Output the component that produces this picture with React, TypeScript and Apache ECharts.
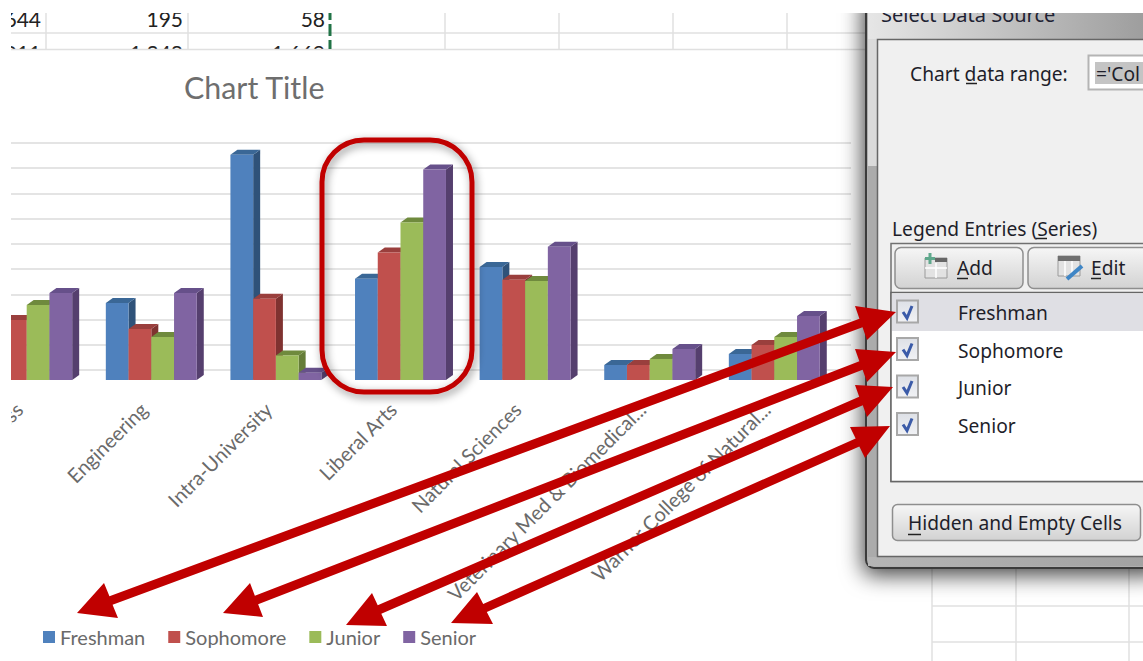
import React, { useEffect, useRef } from "react";
import * as echarts from "echarts";

const categories = [
  "Business",
  "Engineering",
  "Intra-University",
  "Liberal Arts",
  "Natural Sciences",
  "Veterinary Med & Biomedical...",
  "Warner College of Natural...",
];
const seriesNames = ["Freshman", "Sophomore", "Junior", "Senior"];
const freshman = [560, 611, 1786, 802, 897, 119, 206];
const sophomore = [476, 405, 644, 1011, 794, 119, 278];
const junior = [595, 341, 195, 1248, 786, 167, 341];
const senior = [690, 690, 58, 1669, 1056, 246, 508];
const seriesValues = [freshman, sophomore, junior, senior];
const frontColors = ["#4F81BD", "#C0504D", "#9BBB59", "#8064A2"];
const topColors = ["#3A6796", "#9A3F3D", "#6F8A3D", "#66508A"];
const sideColors = ["#2F5279", "#7F3230", "#657D38", "#553F6E"];

const sheetRow1 = ["644", "195", "58"];
const sheetRow2 = ["011", "1,248", "1,669"];
const sheetRight = [41, 183, 325];
const dialogEntries = seriesNames;

const SHEET = '"Lato"';
const UI = '"Noto Sans"';
const UI_FONT = `19.2px ${UI}`;
const RED = "#C00000";
const GRID = "#E0E0E0";

const line = (x1: number, y1: number, x2: number, y2: number, stroke: string, lineWidth: number, z: number, extra: any = {}) => ({
  type: "line",
  z,
  shape: { x1, y1, x2, y2 },
  style: { stroke, lineWidth, ...extra },
});
const rect = (x: number, y: number, width: number, height: number, style: any, z: number, r = 0) => ({
  type: "rect",
  z,
  shape: { x, y, width, height, r },
  style,
});
const text = (t: string, x: number, y: number, font: string, fill: string, z: number, textAlign = "left") => ({
  type: "text",
  z,
  style: { text: t, x, y, font, fill, textAlign, textVerticalAlign: "middle" },
});
const vGrad = (a: string, b: string) => ({
  type: "linear", x: 0, y: 0, x2: 0, y2: 1,
  colorStops: [{ offset: 0, color: a }, { offset: 1, color: b }],
});
const hGrad = (a: string, b: string) => ({
  type: "linear", x: 0, y: 0, x2: 1, y2: 0,
  colorStops: [{ offset: 0, color: a }, { offset: 1, color: b }],
});

type P = [number, number];
const arrow = (tipA: P, a1: P, a2: P, tipB: P, b1: P, b2: P, w: number, z: number) => {
  const ca: P = [(a1[0] + a2[0]) / 2, (a1[1] + a2[1]) / 2];
  const cb: P = [(b1[0] + b2[0]) / 2, (b1[1] + b2[1]) / 2];
  const dx = cb[0] - ca[0];
  const dy = cb[1] - ca[1];
  const len = Math.hypot(dx, dy);
  const nx = (-dy / len) * (w / 2);
  const ny = (dx / len) * (w / 2);
  const points = [
    tipA, a1,
    [ca[0] - nx, ca[1] - ny], [cb[0] - nx, cb[1] - ny],
    b1, tipB, b2,
    [cb[0] + nx, cb[1] + ny], [ca[0] + nx, ca[1] + ny],
    a2,
  ];
  return { type: "polygon", z, shape: { points }, style: { fill: RED } };
};

function sheetElements() {
  const els: any[] = [];
  sheetRow1.forEach((t, i) => els.push(text(t, sheetRight[i], 18, `21px ${SHEET}`, "#222222", 1, "right")));
  sheetRow2.forEach((t, i) => els.push(text(t, sheetRight[i], 52, `21px ${SHEET}`, "#222222", 1, "right")));
  els.push(rect(0, 49, 860, 18, { fill: "#FFFFFF" }, 2));
  [46, 188, 445, 559, 673, 787].forEach((x) => els.push(line(x, 0, x, 49, GRID, 1.5, 3)));
  els.push(line(0, 33, 870, 33, GRID, 1.5, 3));
  els.push(line(0, 49.5, 870, 49.5, GRID, 1.5, 3));
  els.push(line(330, 8, 330, 49, "#217346", 3, 3, { lineDash: [12, 4] }));
  // cells under the dialog
  [932, 1016, 1129].forEach((x) => els.push(line(x, 560, x, 661, GRID, 1.5, 1)));
  [606, 642].forEach((y) => els.push(line(932, y, 1143, y, GRID, 1.5, 1)));
  return els;
}

function dialogElements() {
  const z = 10;
  const els: any[] = [];
  // frame
  els.push(rect(866, -10, 300, 578, {
    fill: "#AFAFAF", stroke: "#3A3A3A", lineWidth: 2,
    shadowBlur: 22, shadowColor: "rgba(0,0,0,0.75)", shadowOffsetX: -2, shadowOffsetY: 6,
  }, z, 8));
  els.push(rect(868, 0, 275, 39, { fill: hGrad("#E6E6E6", "#9E9E9E") }, z));
  els.push(rect(868, 39, 9, 127, { fill: "#DADADA" }, z));
  els.push(rect(868, 166, 9, 398, { fill: "#ABABAB" }, z));
  els.push(rect(868, 557, 275, 9, { fill: hGrad("#B5B5B5", "#A2A2A2") }, z));
  els.push(text("Select Data Source", 881, 14, `20px ${UI}`, "#1E2233", z));
  els.push(rect(877.5, 39.5, 300, 517, { fill: "#F0F0F0", stroke: "#666666", lineWidth: 1.5 }, z));

  // data range
  els.push(text("Chart data range:", 910, 73, UI_FONT, "#1E1E2A", z));
  els.push(line(966, 83.5, 977, 83.5, "#222222", 1.5, z));
  els.push(rect(1088.5, 55.5, 80, 34, { fill: "#FFFFFF", stroke: "#B4B4B4", lineWidth: 2 }, z));
  els.push(rect(1095, 62, 60, 22, { fill: "#C4C4C4" }, z));
  els.push(text("='Col", 1096, 73, UI_FONT, "#1E1E2A", z));

  // legend entries
  els.push(text("Legend Entries (Series)", 892, 228.5, UI_FONT, "#1E1E2A", z));
  els.push(line(1036, 238.5, 1047, 238.5, "#222222", 1.5, z));
  els.push(rect(891, 243.5, 270, 238, { fill: "#F0F0F0", stroke: "#707070", lineWidth: 1.5 }, z));
  const btn = { fill: vGrad("#F6F6F6", "#D2D2D2"), stroke: "#8E8E8E", lineWidth: 1.5 };
  els.push(rect(895, 247.5, 128, 41, btn, z, 6));
  els.push(rect(1028, 247.5, 140, 41, btn, z, 6));
  els.push(text("Add", 957, 267.5, UI_FONT, "#1E1E2A", z));
  els.push(line(957, 278.5, 968, 278.5, "#222222", 1.5, z));
  els.push(text("Edit", 1091, 267.5, UI_FONT, "#1E1E2A", z));
  els.push(line(1091, 278.5, 1101, 278.5, "#222222", 1.5, z));
  // add icon
  els.push(rect(925, 258, 22, 20, { fill: "#E2E2E2", stroke: "#9A9A9A", lineWidth: 1 }, z));
  els.push(rect(935, 258, 12, 4, { fill: "#666666" }, z));
  els.push(line(925, 268, 947, 268, "#FFFFFF", 1.5, z));
  els.push(line(936, 263, 936, 278, "#FFFFFF", 1.5, z));
  els.push(line(925, 258.5, 935, 258.5, "#5FA88C", 3, z));
  els.push(line(930, 253, 930, 264, "#5FA88C", 3, z));
  // edit icon
  els.push(rect(1058, 256, 22, 20, { fill: "#E2E2E2", stroke: "#9A9A9A", lineWidth: 1 }, z));
  els.push(rect(1058, 256, 22, 5, { fill: "#6E6E6E" }, z));
  els.push(line(1065, 261, 1065, 276, "#FFFFFF", 1.5, z));
  els.push(line(1072, 261, 1072, 276, "#FFFFFF", 1.5, z));
  els.push(line(1067, 279, 1082, 266, "#3F86C6", 4, z));

  // list box
  els.push(rect(891, 292.5, 270, 189, { fill: "#FFFFFF", stroke: "#666666", lineWidth: 1.5 }, z));
  els.push(rect(892, 293.5, 251, 37.5, { fill: "#DFDFE4" }, z));
  dialogEntries.forEach((name, i) => {
    const y = 300 + i * 37.5;
    els.push(rect(897, y + 0.5, 21, 22, { fill: vGrad("#DDE0E6", "#F1F2F5"), stroke: "#A8A8A8", lineWidth: 2 }, z));
    els.push({
      type: "polyline", z,
      shape: { points: [[903, y + 12], [907, y + 18], [912, y + 6]] },
      style: { stroke: "#3B5BA8", lineWidth: 3, fill: "none" },
    });
    els.push(text(name, 958, y + 12.5, UI_FONT, "#1E1E2A", z));
  });

  // bottom button
  els.push(rect(892.5, 504.5, 248, 36, btn, z, 5));
  els.push(text("Hidden and Empty Cells", 908, 522.5, UI_FONT, "#1E1E2A", z));
  els.push(line(908, 534.5, 921, 534.5, "#222222", 1.5, z));
  return els;
}

function annotationElements() {
  const els: any[] = [];
  els.push({
    type: "rect", z: 9,
    shape: { x: 322, y: 140, width: 150, height: 252, r: 42 },
    style: { fill: "none", stroke: RED, lineWidth: 5, shadowBlur: 8, shadowColor: "rgba(0,0,0,0.45)", shadowOffsetX: 2, shadowOffsetY: 3 },
  });
  els.push(arrow([77, 613], [104, 583], [118, 618], [896, 312], [855, 306], [867, 340], 9, 12));
  els.push(arrow([223, 613], [250, 583], [263, 617], [896, 352], [855, 349], [867, 382], 9, 12));
  els.push(arrow([346, 625], [372, 593], [387, 626], [893, 387], [855, 385], [867, 417], 9, 12));
  els.push(arrow([451, 623], [477, 592], [493, 624], [890, 426], [850, 427], [865, 458], 9, 12));
  return els;
}

const masks = () => [
  rect(0, 0, 11, 661, { fill: "#FFFFFF" }, 30),
  rect(0, 0, 1143, 13, { fill: "#FFFFFF" }, 30),
];

const DEPTH_X = 7;
const DEPTH_Y = 5;
const GROUP_SHARE = 0.73;

const bar3d = (s: number) => (_params: any, api: any) => {
  const idx = api.value(0);
  const [cx, y] = api.coord([idx, api.value(1)]);
  const [, base] = api.coord([idx, 0]);
  const band = api.size([1, 0])[0];
  const w = (band * GROUP_SHARE) / seriesNames.length;
  const x = cx - (band * GROUP_SHARE) / 2 + s * w;
  return {
    type: "group",
    children: [
      {
        type: "polygon",
        shape: { points: [[x + w, y], [x + w + DEPTH_X, y - DEPTH_Y], [x + w + DEPTH_X, base - DEPTH_Y], [x + w, base]] },
        style: { fill: sideColors[s] },
      },
      {
        type: "polygon",
        shape: { points: [[x, y], [x + DEPTH_X, y - DEPTH_Y], [x + w + DEPTH_X, y - DEPTH_Y], [x + w, y]] },
        style: { fill: topColors[s] },
      },
      { type: "rect", shape: { x, y, width: w, height: base - y }, style: { fill: frontColors[s] } },
    ],
  };
};

export default function App() {
  const ref = useRef<HTMLDivElement>(null);
  useEffect(() => {
    document.body.style.margin = "0";
    const chart = echarts.init(ref.current!, null, { renderer: "svg" });
    chart.setOption({
      animation: false,
      backgroundColor: "#FFFFFF",
      title: {
        text: "Chart Title",
        left: 184,
        top: 72,
        padding: 0,
        textStyle: { fontFamily: SHEET, fontSize: 30.4, fontWeight: "normal", color: "#6E6E6E" },
      },
      legend: {
        data: seriesNames,
        left: 43,
        top: 627,
        padding: 0,
        itemWidth: 12,
        itemHeight: 12,
        itemGap: 23,
        icon: "rect",
        textStyle: { fontFamily: SHEET, fontSize: 20, color: "#6A6A6A" },
      },
      grid: [
        { left: -35.6, width: 872.2, top: 153, height: 227, outerBoundsMode: "none" },
        { left: 11, width: 840, top: 143, height: 227, outerBoundsMode: "none" },
      ],
      xAxis: [
        {
          type: "category",
          gridIndex: 0,
          data: categories,
          axisLine: { show: false },
          axisTick: { show: false },
          axisLabel: {
            interval: 0,
            rotate: 45,
            margin: 18,
            padding: [0, 11, 0, 0],
            fontFamily: SHEET,
            fontSize: 20,
            color: "#6A6A6A",
          },
        },
        { type: "value", gridIndex: 1, min: 0, max: 1, show: false },
      ],
      yAxis: [
        { type: "value", gridIndex: 0, min: 0, max: 1800, interval: 200, show: false },
        {
          type: "value",
          gridIndex: 1,
          min: 0,
          max: 1800,
          interval: 200,
          axisLine: { show: false },
          axisTick: { show: false },
          axisLabel: { show: false },
          splitLine: { show: true, lineStyle: { color: "#E4E4E4", width: 2 } },
        },
      ],
      series: seriesNames.map((name, s) => ({
        type: "custom",
        name,
        xAxisIndex: 0,
        yAxisIndex: 0,
        renderItem: bar3d(s),
        itemStyle: { color: frontColors[s] },
        encode: { x: 0, y: 1 },
        data: seriesValues[s].map((v, i) => [i, v]),
      })),
      graphic: {
        elements: [...sheetElements(), ...annotationElements(), ...dialogElements(), ...masks()],
      },
    });
    return () => chart.dispose();
  }, []);
  return <div ref={ref} style={{ width: 1143, height: 661 }} />;
}
